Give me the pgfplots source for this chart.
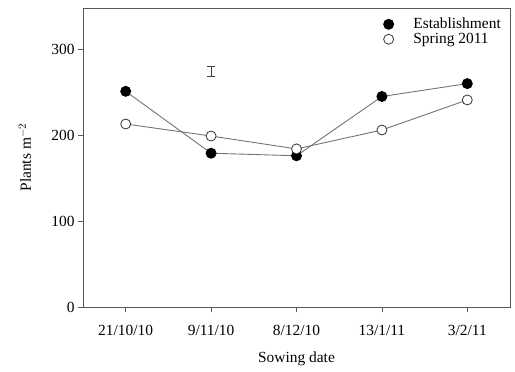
\documentclass[border=0pt]{standalone}
\usepackage{fontspec}
\setmainfont{Liberation Serif}
\usepackage{pgfplots}
\pgfplotsset{compat=1.18}
\begin{document}
\begin{tikzpicture}
\begin{axis}[
  scale only axis,
  width=427bp, height=299bp,
  xmin=-0.5, xmax=4.5,
  ymin=0, ymax=348,
  xtick={0,1,2,3,4},
  xticklabels={21/10/10,9/11/10,8/12/10,13/1/11,3/2/11},
  ytick={0,100,200,300},
  tick align=outside,
  tick pos=left,
  major tick length=5bp,
  axis line style={black!65, line width=0.9pt},
  tick style={black!65, line width=0.8pt},
  font=\fontsize{15.5}{18}\selectfont,
  /pgf/number format/assume math mode=true,
  xticklabel style={yshift=-10bp},
  xlabel={Sowing date},
  ylabel={Plants m$^{-2}$},
  xlabel style={at={(axis description cs:0.5,0)}, anchor=center, yshift=-52bp},
  ylabel style={at={(axis description cs:-0.136,0.5)}, anchor=center},
  legend style={draw=none, fill=none, at={(1,1)}, anchor=north east, xshift=-4bp, yshift=-6bp,
    font=\fontsize{15.5}{17}\selectfont, row sep=-1bp},
  legend cell align=left,
  legend image code/.code={\draw[mark repeat=2, mark phase=2, #1, draw=none]
    plot coordinates {(0cm,0cm) (0.3cm,0cm) (1.1cm,0cm)};},
]
\addplot[color=black!55, line width=0.9pt, mark=*, mark size=5bp,
  mark options={draw=black, fill=black}]
  coordinates {(0,251) (1,179) (2,176) (3,245) (4,260)};
\addlegendentry{Establishment}
\addplot[color=black!55, line width=0.9pt, mark=*, mark size=5bp,
  mark options={draw=black!80, fill=white, line width=0.8pt}]
  coordinates {(0,213) (1,199) (2,184) (3,206) (4,241)};
\addlegendentry{Spring 2011}
\addplot[draw=none, forget plot, mark=none,
  error bars/.cd, y dir=both, y explicit,
  error bar style={black!75, line width=0.8pt},
  error mark options={rotate=90, mark size=4bp, black!75, line width=0.8pt}]
  coordinates {(1,274) +- (0,6)};
\end{axis}
\path (current axis.south west) ++(-83bp,-65bp) coordinate (bbA);
\path (current axis.north east) ++(5bp,8bp) coordinate (bbB);
\path (bbA) rectangle (bbB);
\end{tikzpicture}
\end{document}
